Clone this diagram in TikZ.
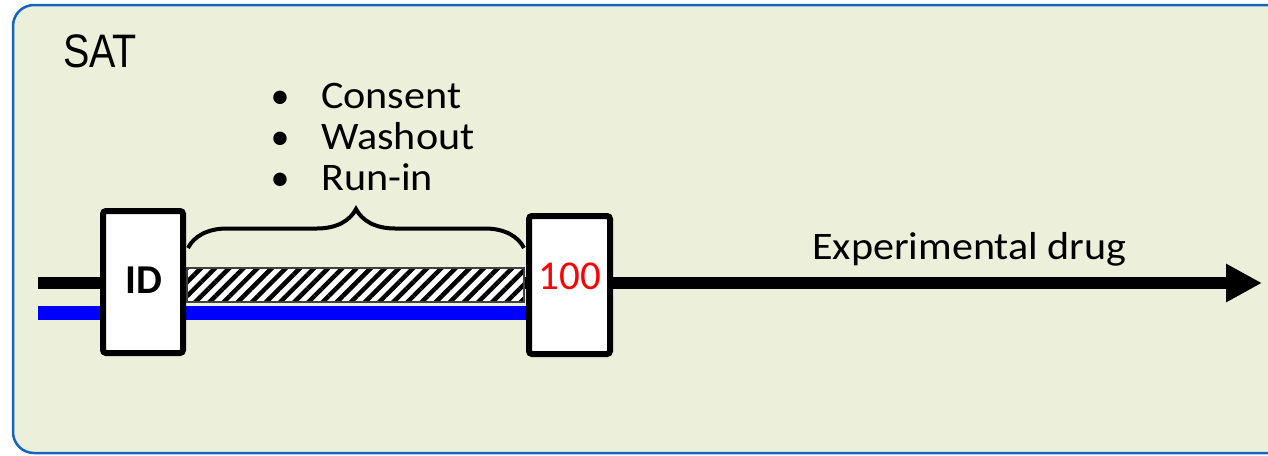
\documentclass[tikz,border=0pt]{standalone}
\usepackage{fontspec}
\usepackage{graphicx}
\setmainfont{Carlito}
\newfontfamily\satfont{Liberation Sans}
\newfontfamily\labelfont[FakeStretch=1.08]{Carlito}
\usetikzlibrary{arrows.meta,decorations.pathreplacing,patterns.meta}
\definecolor{panelfill}{RGB}{236,240,218}
\definecolor{paneledge}{RGB}{21,101,192}
\definecolor{trackblue}{RGB}{0,0,255}
\definecolor{countred}{RGB}{255,0,0}
\pgfdeclarelayer{back}
\pgfsetlayers{back,main}
\tikzset{
  milestone/.style={draw=black, line width=6pt, fill=white, rounded corners=3pt, inner sep=0pt},
  bigtext/.style={font=\labelfont\fontsize{39}{41}\selectfont, inner sep=0pt},
  listtext/.style={bigtext, anchor=base west},
  bulletmark/.style={font=\fontsize{38}{40}\selectfont, inner sep=0pt, anchor=base},
  track/.style={line width=12pt},
}
\begin{document}
\begin{tikzpicture}[x=1pt,y=-1pt]
\useasboundingbox (0,0) rectangle (1268,455);

% milestone boxes
\node[milestone, minimum width=80pt, minimum height=142pt] (idbox) at (143,282) {};
\node[font=\bfseries\fontsize{41}{44}\selectfont, inner sep=0pt] (idlabel) at (144,280.5) {ID};
\node[milestone, minimum width=81pt, minimum height=138pt] (hundred) at (569.5,285) {};
\node[text=countred, font=\fontsize{41}{44}\selectfont, inner sep=0pt] (count) at (570,276) {100};

% panel and tracks underneath the boxes
\coordinate (blackstart) at (38,283);
\coordinate (bluestart) at (38,313);
\begin{pgfonlayer}{back}
  \path[draw=paneledge, fill=panelfill, line width=2.5pt, rounded corners=21pt]
    (13,5) rectangle (1300,453);
  \draw[track] (blackstart) -- (blackstart -| hundred.center);
  \draw[line width=14pt, trackblue] (bluestart) -- (bluestart -| hundred.center);
\end{pgfonlayer}

% run-in period
\node[preaction={fill=white}, pattern={Lines[angle=45,distance=10pt,line width=4.5pt]},
      draw=black!75, line width=1.2pt, inner sep=0pt,
      minimum width=337pt, minimum height=34pt] (runin) at (355.5,285) {};

% brace over the run-in period
\coordinate (braceL) at (188,248);
\coordinate (braceR) at (524,248);
\draw[decorate, decoration={brace, amplitude=39pt}, line width=4pt] (braceL) -- (braceR);

% treatment arrow
\coordinate (arrowtip) at (1262,283);
\draw[track, -{Triangle[length=36pt,width=36pt]}] (hundred.east |- arrowtip) -- (arrowtip);
\node[listtext] (druglabel) at (812,259) {Experimental drug};

% title
\node[anchor=base west, inner sep=0pt, font=\satfont\fontsize{47}{50}\selectfont] (sat) at (63,67)
  {\scalebox{0.84}[1]{SAT}};

% activity list
\node[bulletmark] (b1) at (280,108) {•};
\node[bulletmark] (b2) at (280,149) {•};
\node[bulletmark] (b3) at (280,190) {•};
\node[listtext] (t1) at (321,108) {Consent};
\node[listtext] (t2) at (321,149) {Washout};
\node[listtext] (t3) at (321,190) {Run-in};
\end{tikzpicture}
\end{document}
